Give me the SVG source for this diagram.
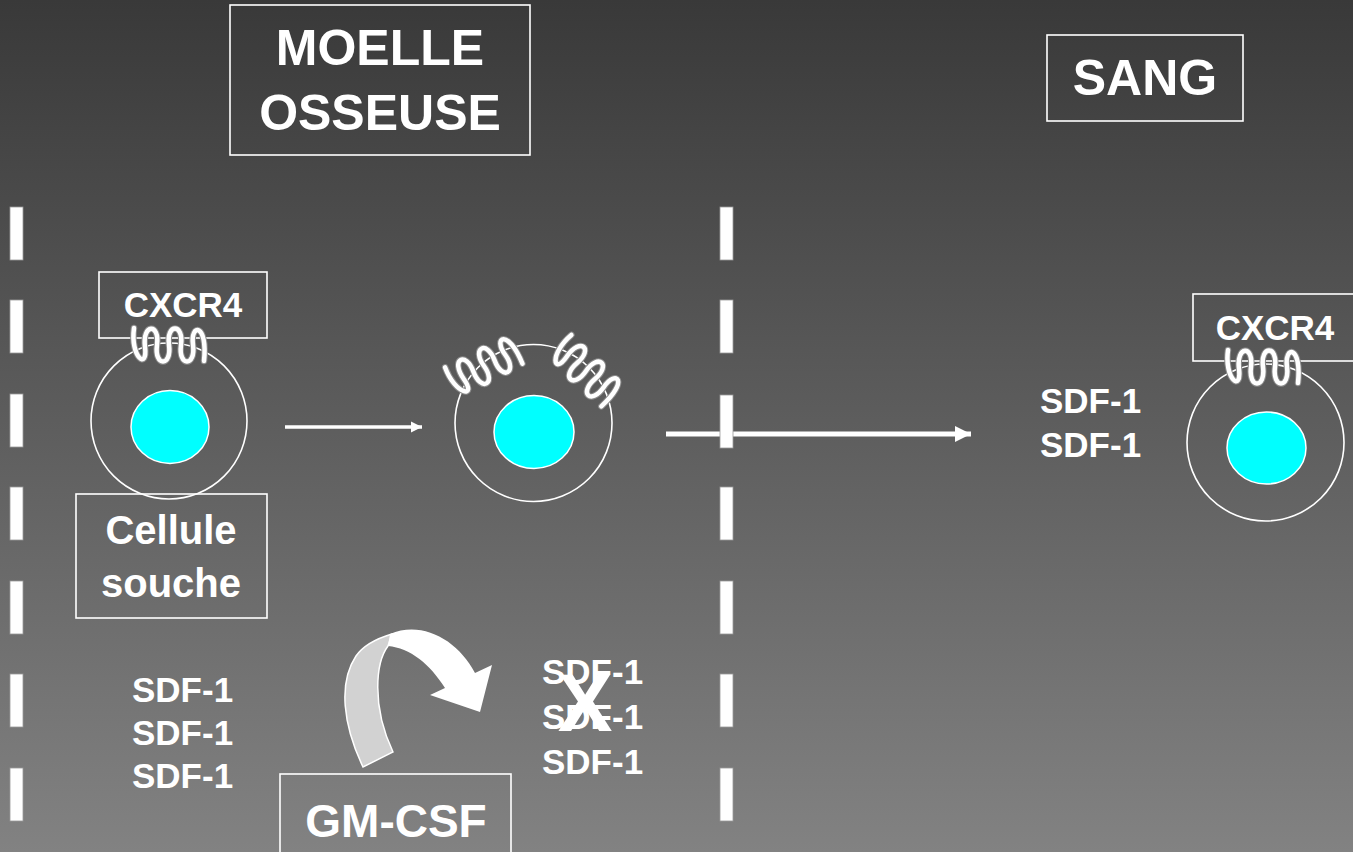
<svg xmlns="http://www.w3.org/2000/svg" xmlns:xlink="http://www.w3.org/1999/xlink" width="1353" height="852" viewBox="0 0 1353 852">
  <defs>
    <linearGradient id="bg" x1="0" y1="0" x2="0" y2="1">
      <stop offset="0" stop-color="#393939"/>
      <stop offset="1" stop-color="#828282"/>
    </linearGradient>
    <!-- receptor coil (serpentine), drawn around y=0, x from 0 to 70 -->
    <g id="coil">
      <path class="coil-edge" d="M0,-17 C-4,12 14,26 11,2 C8,-22 26,-22 23,0 C20,22 38,22 35,0 C32,-22 50,-22 47,0 C44,22 62,22 59,0 C56,-22 74,-22 70,16"/>
      <path class="coil" d="M0,-17 C-4,12 14,26 11,2 C8,-22 26,-22 23,0 C20,22 38,22 35,0 C32,-22 50,-22 47,0 C44,22 62,22 59,0 C56,-22 74,-22 70,16"/>
    </g>
    <marker id="head" viewBox="0 0 10 10" refX="10" refY="5" markerWidth="3.2" markerHeight="3.4" markerUnits="strokeWidth" orient="auto">
      <path d="M0,0 L10,5 L0,10 Z" fill="#ffffff"/>
    </marker>
    <style>
      .lbl { font-family: "Liberation Sans", Arial, sans-serif; font-weight: bold; fill: #ffffff; }
      .box { fill: none; stroke: #ffffff; stroke-width: 1.6; }
      .membrane { fill: none; stroke: #ffffff; stroke-width: 1.6; }
      .nucleus { fill: #00ffff; stroke: #ffffff; stroke-width: 1.5; }
      .coil { fill: none; stroke: #ffffff; stroke-width: 4.5; stroke-linecap: round; }
      .coil-edge { fill: none; stroke: #8a8a8a; stroke-width: 6.5; stroke-linecap: round; }
      .dash { fill: #ffffff; stroke: #9a9a9a; stroke-width: 0.8; }
      .flow { stroke: #ffffff; fill: none; }
    </style>
  </defs>

  <!-- background -->
  <rect x="0" y="0" width="1353" height="852" fill="url(#bg)"/>

  <!-- compartment titles -->
  <g id="moelle-osseuse">
    <rect class="box" x="230" y="5" width="300" height="150"/>
    <text class="lbl" x="380" y="65" font-size="50" text-anchor="middle">MOELLE</text>
    <text class="lbl" x="380" y="130" font-size="50" text-anchor="middle">OSSEUSE</text>
  </g>
  <g id="sang">
    <rect class="box" x="1047" y="35" width="196" height="86"/>
    <text class="lbl" x="1145" y="95" font-size="50" text-anchor="middle">SANG</text>
  </g>

  <!-- dashed boundaries -->
  <g id="boundary-left">
    <rect class="dash" x="10" y="207" width="13" height="53"/>
    <rect class="dash" x="10" y="300" width="13" height="53"/>
    <rect class="dash" x="10" y="394" width="13" height="53"/>
    <rect class="dash" x="10" y="487" width="13" height="53"/>
    <rect class="dash" x="10" y="581" width="13" height="53"/>
    <rect class="dash" x="10" y="674" width="13" height="53"/>
    <rect class="dash" x="10" y="768" width="13" height="53"/>
  </g>

  <!-- connectors -->
  <g id="connectors">
    <line class="flow" x1="285" y1="427" x2="422" y2="427" stroke-width="3.5" marker-end="url(#head)"/>
    <line class="flow" x1="666" y1="434" x2="971" y2="434" stroke-width="5" marker-end="url(#head)"/>
  </g>

  <g id="boundary-middle">
    <rect class="dash" x="720" y="207" width="13" height="53"/>
    <rect class="dash" x="720" y="300" width="13" height="53"/>
    <rect class="dash" x="720" y="395" width="13" height="53"/>
    <rect class="dash" x="720" y="487" width="13" height="53"/>
    <rect class="dash" x="720" y="581" width="13" height="53"/>
    <rect class="dash" x="720" y="674" width="13" height="53"/>
    <rect class="dash" x="720" y="768" width="13" height="53"/>
  </g>

  <!-- stem cell in marrow -->
  <g id="cell-stem">
    <circle class="membrane" cx="169" cy="421" r="78"/>
    <ellipse class="nucleus" cx="170" cy="427" rx="39" ry="36.5"/>
    <rect class="box" x="99" y="272" width="168" height="66"/>
    <text class="lbl" x="183" y="317" font-size="35" text-anchor="middle">CXCR4</text>
    <use xlink:href="#coil" href="#coil" transform="translate(134,345)"/>
    <rect class="box" x="76" y="494" width="191" height="124"/>
    <text class="lbl" x="171" y="544" font-size="40" text-anchor="middle">Cellule</text>
    <text class="lbl" x="171" y="597" font-size="40" text-anchor="middle">souche</text>
  </g>

  <!-- cell with rearranged receptors -->
  <g id="cell-middle">
    <circle class="membrane" cx="533.5" cy="423" r="78.5"/>
    <ellipse class="nucleus" cx="534" cy="432" rx="40" ry="36.5"/>
    <use xlink:href="#coil" href="#coil" transform="translate(484,366) rotate(-28) translate(-35,0)"/>
    <use xlink:href="#coil" href="#coil" transform="translate(586,371) rotate(42) translate(-35,0)"/>
  </g>

  <!-- cell in blood -->
  <g id="cell-blood">
    <circle class="membrane" cx="1265.5" cy="442.5" r="78.5"/>
    <ellipse class="nucleus" cx="1266.5" cy="448" rx="39.5" ry="36"/>
    <rect class="box" x="1193" y="294" width="162" height="67"/>
    <text class="lbl" x="1275" y="340" font-size="35" text-anchor="middle">CXCR4</text>
    <use xlink:href="#coil" href="#coil" transform="translate(1228,367)"/>
  </g>

  <!-- SDF-1 labels -->
  <g id="sdf-blood">
    <text class="lbl" x="1040" y="413" font-size="35">SDF-1</text>
    <text class="lbl" x="1040" y="457" font-size="35">SDF-1</text>
  </g>
  <g id="sdf-marrow">
    <text class="lbl" x="132" y="702" font-size="35">SDF-1</text>
    <text class="lbl" x="132" y="745" font-size="35">SDF-1</text>
    <text class="lbl" x="132" y="788" font-size="35">SDF-1</text>
  </g>
  <g id="sdf-cleaved">
    <text class="lbl" x="542" y="684" font-size="35">SDF-1</text>
    <text class="lbl" x="542" y="729" font-size="35">SDF-1</text>
    <text class="lbl" x="542" y="774" font-size="35">SDF-1</text>
    <text class="lbl" x="585" y="731" font-size="82" text-anchor="middle">X</text>
  </g>

  <!-- GM-CSF and its curved arrow -->
  <g id="gm-csf-arrow">
    <path d="M363,767 C343,725 338,683 356,656 C363,646 375,639 392,634 L388,646 C376,662 371,705 393,752 Z" fill="#d2d2d2" stroke="#ffffff" stroke-width="1.5"/>
    <path d="M390,634 C422,620 458,640 475,673 L492,665 L480,712 L430,695 L445,688 C430,664 410,648 388,646 Z" fill="#ffffff"/>
  </g>
  <g id="gm-csf">
    <rect class="box" x="280" y="774" width="231" height="90"/>
    <text class="lbl" x="396" y="837" font-size="46" text-anchor="middle">GM-CSF</text>
  </g>
</svg>
